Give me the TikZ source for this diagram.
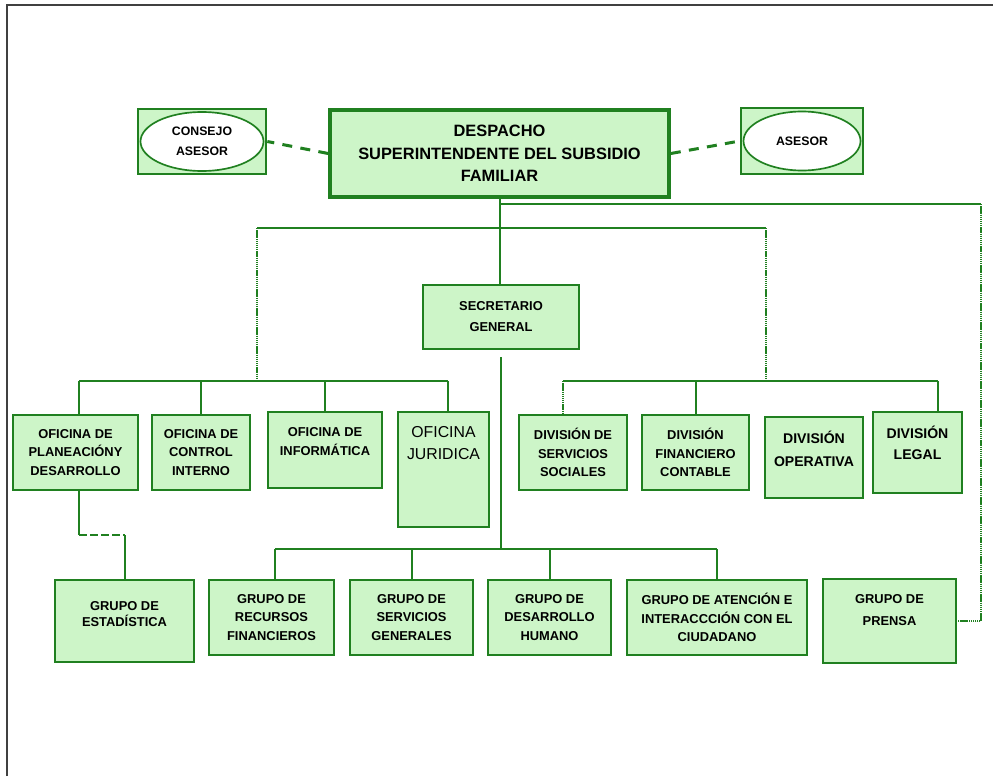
\documentclass[tikz,border=0pt]{standalone}
\usepackage{fontspec}
\setsansfont{Liberation Sans}
\usetikzlibrary{positioning,calc,shapes.geometric}
\definecolor{orgline}{RGB}{32,128,32}
\definecolor{orgfill}{RGB}{205,245,200}
\newcommand{\uptext}[4]{\parbox[c][#1][t]{#2}{\centering\vspace*{#3}#4}}

\begin{document}
\begin{tikzpicture}[x=0.3mm,y=-0.3mm,
    unit/.style={draw=orgline, fill=orgfill, line width=0.8mm, align=center, inner sep=0pt,
      font=\sffamily\bfseries\fontsize{11}{16}\selectfont},
    dims/.style 2 args={minimum width=#1, minimum height=#2},
    adviser/.style={ellipse, draw=orgline, fill=white, line width=0.5mm, align=center, inner sep=0pt,
      font=\sffamily\bfseries\fontsize{10.5}{17}\selectfont},
    link/.style={draw=orgline, line width=0.6mm},
    dotlink/.style={link, dash pattern=on 1.2pt off 0.6pt},
    advlink/.style={draw=orgline, line width=0.9mm, dash pattern=on 3mm off 2.5mm},
    sublink/.style={link, dash pattern=on 2.5mm off 0.8mm}]

    \fill[white] (0,0) rectangle (993,776);
    \useasboundingbox (0,0) rectangle (993,776);
    \draw[black!75, line width=0.7mm] (7,776) -- (7,5) -- (993,5);  % marco

    % despacho y asesores
    \node[unit, dims={101.7mm}{26.1mm}, line width=1.1mm, font=\sffamily\bfseries\fontsize{14}{19}\selectfont]
        (despacho) at (499.5,153.5) {DESPACHO\\SUPERINTENDENTE DEL SUBSIDIO\\FAMILIAR};
    \node[unit, dims={38.4mm}{19.5mm}] (consejobox) at (202,141.5) {};
    \node[adviser, dims={36.9mm}{17.7mm}] (consejo) at (consejobox.center) {CONSEJO\\ASESOR};
    \node[unit, dims={36.6mm}{19.8mm}] (asesorbox) at (802,141) {};
    \node[adviser, dims={35.1mm}{17.7mm}] (asesor) at (asesorbox.center) {ASESOR};

    \node[unit, dims={46.8mm}{19.2mm}, font=\sffamily\bfseries\fontsize{11}{18}\selectfont]
        (secretario) at (501,317) {SECRETARIO\\GENERAL};

    % oficinas
    \node[unit, dims={37.5mm}{22.5mm}] (planeacion) at (75.5,452.5) {OFICINA DE\\PLANEACIÓNY\\DESARROLLO};
    \node[unit, dims={29.4mm}{22.5mm}] (control) at (201,452.5) {OFICINA DE\\CONTROL\\INTERNO};
    \node[unit, font=\sffamily\bfseries\fontsize{11}{17}\selectfont]
        (informatica) at (325,450) {\uptext{22.8mm}{34.2mm}{4.5mm}{OFICINA DE\\INFORMÁTICA}};
    \node[unit, font=\sffamily\fontsize{13.5}{19}\selectfont]
        (juridica) at (443.5,469.5) {\uptext{34.5mm}{27.3mm}{4.2mm}{OFICINA\\JURIDICA}};

    % divisiones
    \node[unit, dims={32.4mm}{22.5mm}] (servsoc) at (573,452.5) {DIVISIÓN DE\\SERVICIOS\\SOCIALES};
    \node[unit, dims={32.1mm}{22.5mm}] (financiero) at (695.5,452.5) {DIVISIÓN\\FINANCIERO\\CONTABLE};
    \node[unit, font=\sffamily\bfseries\fontsize{12}{19.5}\selectfont]
        (operativa) at (814,457.5) {\uptext{24.3mm}{29.4mm}{4.2mm}{DIVISIÓN\\OPERATIVA}};
    \node[unit, font=\sffamily\bfseries\fontsize{12}{18}\selectfont]
        (legal) at (917.5,452.5) {\uptext{24.3mm}{26.7mm}{4.2mm}{DIVISIÓN\\LEGAL}};

    % grupos
    \node[unit, font=\sffamily\bfseries\fontsize{11}{14}\selectfont]
        (estadistica) at (124.5,621) {\uptext{24.6mm}{41.7mm}{6.3mm}{GRUPO DE\\ESTADÍSTICA}};
    \node[unit, dims={37.5mm}{22.5mm}] (recursos) at (271.5,617.5) {GRUPO DE\\RECURSOS\\FINANCIEROS};
    \node[unit, dims={36.9mm}{22.5mm}] (servgen) at (411.5,617.5) {GRUPO DE\\SERVICIOS\\GENERALES};
    \node[unit, dims={36.9mm}{22.5mm}] (desarrollo) at (549.5,617.5) {GRUPO DE\\DESARROLLO\\HUMANO};
    \node[unit, dims={54mm}{22.5mm}] (atencion) at (717,617.5) {GRUPO DE ATENCIÓN E\\INTERACCCIÓN CON EL\\CIUDADANO};
    \node[unit, font=\sffamily\bfseries\fontsize{11}{19}\selectfont]
        (prensa) at (889.5,621) {\uptext{25.2mm}{39.9mm}{4.5mm}{GRUPO DE\\PRENSA}};

    % puntos de las barras
    \coordinate (hA) at (499.5,204);
    \coordinate (rturn) at (981,204);
    \coordinate (bl) at (257,228);
    \coordinate (br) at (766,228);
    \coordinate (ol) at (79,381);
    \coordinate (or) at (448,381);
    \coordinate (rl) at (563,381);
    \coordinate (rr) at (938,381);
    \coordinate (gl) at (275,549);
    \coordinate (gr) at (717,549);
    \coordinate (ek) at (79,535);

    \draw[advlink] (despacho.west) -- (consejobox.east);
    \draw[advlink] (despacho.east) -- (asesorbox.west);

    \draw[link] (hA |- secretario.north) -- (hA) -- (despacho.south);
    \draw[link] (hA) -- (rturn);
    \draw[dotlink] (rturn) |- (prensa.east);
    \draw[link] (bl) -- (br);
    \draw[dotlink] (bl) -- (bl |- ol);
    \draw[dotlink] (br) -- (br |- rl);

    \draw[link] (ol) -- (or);
    \draw[link] (rl) -- (rr);
    \draw[link] (ol) -- (ol |- planeacion.north);
    \draw[link] (control.north |- ol) -- (control.north);
    \draw[link] (informatica.north |- ol) -- (informatica.north);
    \draw[link] (or) -- (or |- juridica.north);
    \draw[dotlink] (rl) -- (rl |- servsoc.north);
    \draw[link] (financiero.north |- rl) -- (financiero.north);
    \draw[link] (rr) -- (rr |- legal.north);

    \draw[link] (secretario.south |- gl) -- ([yshift=-2mm]secretario.south);
    \draw[link] (gl) -- (gr);
    \draw[link] (gl) -- (gl |- recursos.north);
    \draw[link] (servgen.north |- gl) -- (servgen.north);
    \draw[link] (desarrollo.north |- gl) -- (desarrollo.north);
    \draw[link] (gr) -- (atencion.north);

    \draw[link] (planeacion.south -| ek) -- (ek);
    \draw[sublink] (ek) -- (ek -| estadistica.north);
    \draw[link] (ek -| estadistica.north) -- (estadistica.north);
\end{tikzpicture}
\end{document}
